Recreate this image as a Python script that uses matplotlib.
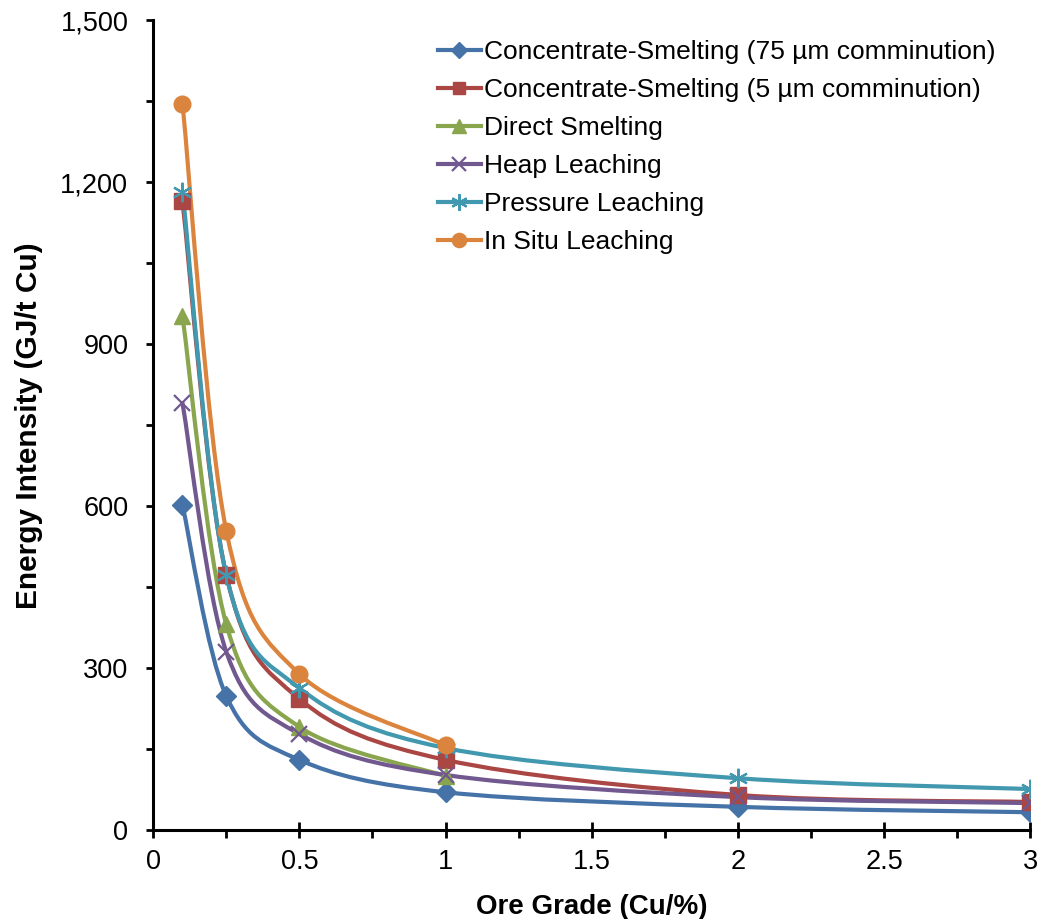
import matplotlib
matplotlib.use("Agg")
import matplotlib.pyplot as plt
from matplotlib.path import Path
from matplotlib.patches import PathPatch
from matplotlib.lines import Line2D
from matplotlib.ticker import MultipleLocator, FuncFormatter
import numpy as np

plt.rcParams['font.family'] = ['Liberation Sans', 'DejaVu Sans']

grade_full = [0.1, 0.25, 0.5, 1, 2, 3]
grade_short = [0.1, 0.25, 0.5, 1]

conc75 = [602, 248, 130, 70, 43, 33]
conc5 = [1165, 472, 243, 130, 65, 52]
direct = [952, 381, 191, 100]
heap = [791, 330, 178, 102, 61, 50]
pressure = [1183, 472, 263, 152, 96, 76]
insitu = [1346, 554, 289, 157]

series = [
    ("Concentrate-Smelting (75 µm comminution)", grade_full, conc75, "#4572A7", "D", 10),
    ("Concentrate-Smelting (5 µm comminution)", grade_full, conc5, "#AA4643", "s", 11),
    ("Direct Smelting", grade_short, direct, "#89A54E", "^", 12),
    ("Heap Leaching", grade_full, heap, "#71588F", "x", 12),
    ("Pressure Leaching", grade_full, pressure, "#4198AF", (6, 2, 0), 14),
    ("In Situ Leaching", grade_short, insitu, "#DB843D", "o", 12),
]


def smooth_path(xs, ys):
    pts = np.column_stack([xs, ys]).astype(float)
    n = len(pts)
    verts = [pts[0]]
    codes = [Path.MOVETO]
    for i in range(n - 1):
        p0 = pts[i - 1] if i > 0 else pts[i]
        p1 = pts[i]
        p2 = pts[i + 1]
        p3 = pts[i + 2] if i + 2 < n else pts[i + 1]
        c1 = p1 + (p2 - p0) / 6.0
        c2 = p2 - (p3 - p1) / 6.0
        verts += [c1, c2, p2]
        codes += [Path.CURVE4] * 3
    return Path(verts, codes)


fig = plt.figure(figsize=(10.39, 9.19), dpi=100)
ax = fig.add_axes([0.1475, 0.0968, 0.844, 0.881])

handles = []
for label, xs, ys, color, marker, ms in series:
    patch = PathPatch(smooth_path(xs, ys), fill=False, edgecolor=color, lw=3.0,
                      capstyle='round', joinstyle='round', zorder=2)
    ax.add_patch(patch)
    thin = marker in ("x", (6, 2, 0))
    ax.plot(xs, ys, marker=marker, markersize=ms, color=color, linestyle='none',
            markeredgewidth=1.6 if thin else 1.0, zorder=3)
    h = Line2D([], [], color=color, lw=3.0, marker=marker, markersize=ms * 0.85,
               markeredgewidth=1.6 if thin else 1.0)
    handles.append(h)

ax.set_xlim(0, 3)
ax.set_ylim(0, 1500)

for s in ['top', 'right']:
    ax.spines[s].set_visible(False)
for s in ['left', 'bottom']:
    ax.spines[s].set_linewidth(2.2)
    ax.spines[s].set_color('black')

ax.xaxis.set_major_locator(MultipleLocator(0.5))
ax.xaxis.set_minor_locator(MultipleLocator(0.25))
ax.yaxis.set_major_locator(MultipleLocator(300))
ax.yaxis.set_minor_locator(MultipleLocator(150))
ax.xaxis.set_major_formatter(FuncFormatter(lambda v, p: f"{v:g}"))
ax.yaxis.set_major_formatter(FuncFormatter(lambda v, p: f"{int(v):,}"))

ax.tick_params(axis='x', which='major', direction='inout', length=11, width=2,
               labelsize=19.5, colors='black', pad=8)
ax.tick_params(axis='x', which='minor', direction='out', length=6, width=2)
ax.tick_params(axis='y', which='major', direction='out', length=5, width=2,
               labelsize=19.5, colors='black', pad=13)
ax.tick_params(axis='y', which='minor', direction='out', length=5, width=2)

ax.set_xlabel("Ore Grade (Cu/%)", fontsize=20, fontweight='bold')
ax.set_ylabel("Energy Intensity (GJ/t Cu)", fontsize=21.5, fontweight='bold')
ax.xaxis.set_label_coords(0.5, -0.079)
ax.yaxis.set_label_coords(-0.1255, 0.5)

ax.legend(handles=handles, labels=[s[0] for s in series], loc='upper left',
          bbox_to_anchor=(0.313, 0.989), frameon=False, fontsize=19,
          handlelength=1.6, handletextpad=0.15, labelspacing=0.53, borderaxespad=0)

fig.savefig("out.png", dpi=100)
